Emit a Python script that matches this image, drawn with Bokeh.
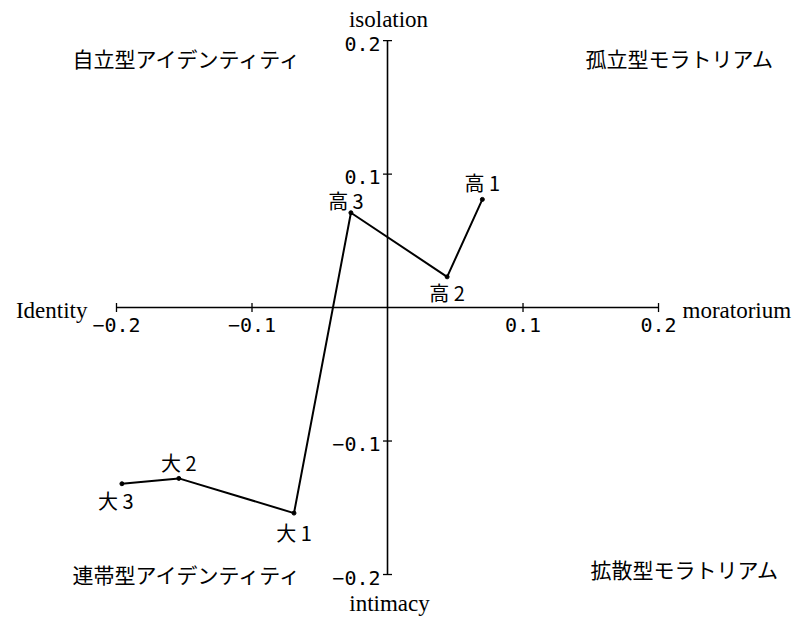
from bokeh.plotting import figure
from bokeh.models import ColumnDataSource, Range1d
from bokeh.core.properties import value
from bokeh.embed import file_html
from bokeh.resources import INLINE
import math

# ---- data ----
point_names = ["高 1", "高 2", "高 3", "大 1", "大 2", "大 3"]
point_x = [0.070, 0.044, -0.027, -0.069, -0.154, -0.196]
point_y = [0.081, 0.023, 0.071, -0.154, -0.128, -0.132]

x_ticks = [-0.2, -0.1, 0.1, 0.2]
x_tick_labels = ["\u22120.2", "\u22120.1", "0.1", "0.2"]
y_ticks = [0.2, 0.1, -0.1, -0.2]
y_tick_labels = ["0.2", "0.1", "\u22120.1", "\u22120.2"]

axis_names = ["isolation", "intimacy", "Identity", "moratorium"]
quadrant_labels = ["自立型アイデンティティ", "孤立型モラトリアム",
                   "連帯型アイデンティティ", "拡散型モラトリアム"]

# ---- layout / style ----
label_dx = [0, 0, -5, 0, 0, -6]
label_dy = [-17, 16, -12, 19, -16, 17]
quad_x = [-0.2325, 0.1461, -0.2325, 0.1498]
quad_y = [0.1873, 0.1873, -0.1993, -0.1955]

p = figure(width=798, height=617, output_backend="svg", toolbar_location=None,
           x_range=Range1d(-0.2856, 0.3033), y_range=Range1d(-0.2322, 0.2300),
           min_border=0)
p.xaxis.visible = False
p.yaxis.visible = False
p.grid.visible = False
p.outline_line_color = None
p.background_fill_color = "white"
p.border_fill_color = "white"

serif = value("Liberation Serif")
mono = value("DejaVu Sans Mono")
cjk = value("Noto Sans CJK JP")

# axis lines
p.segment(x0=[x_ticks[0], 0], y0=[0, y_ticks[-1]], x1=[x_ticks[-1], 0], y1=[0, y_ticks[0]],
          line_color="black", line_width=1.6)
# ticks
p.scatter(x=x_ticks, y=[0] * len(x_ticks), marker="dash", size=9, angle=math.pi / 2,
          line_color="black", line_width=1.3)
p.scatter(x=[0] * len(y_ticks), y=y_ticks, marker="dash", size=9,
          line_color="black", line_width=1.3)

# tick labels
p.text(x=x_ticks, y=[0] * len(x_ticks), text=x_tick_labels, text_font=mono,
       text_font_size="20px", text_align="center", text_baseline="middle",
       y_offset=17, text_color="black")
p.text(x=[0] * len(y_ticks), y=y_ticks, text=y_tick_labels, text_font=mono,
       text_font_size="20px", text_align="right", text_baseline="middle",
       x_offset=-7, y_offset=3, text_color="black")

# axis names
p.text(x=[0], y=[y_ticks[0]], text=[axis_names[0]], text_font=serif, text_font_size="23px",
       text_align="center", text_baseline="middle", y_offset=-21, x_offset=1)
p.text(x=[0], y=[y_ticks[-1]], text=[axis_names[1]], text_font=serif, text_font_size="23px",
       text_align="center", text_baseline="middle", y_offset=29, x_offset=2)
p.text(x=[x_ticks[0]], y=[0], text=[axis_names[2]], text_font=serif, text_font_size="23px",
       text_align="right", text_baseline="middle", x_offset=-29, y_offset=3)
p.text(x=[x_ticks[-1]], y=[0], text=[axis_names[3]], text_font=serif, text_font_size="23px",
       text_align="left", text_baseline="middle", x_offset=24, y_offset=3)

# quadrant labels
p.text(x=quad_x, y=quad_y, text=quadrant_labels, text_font=cjk, text_font_size="21px",
       text_align="left", text_baseline="middle", text_color="black")

# data line
src = ColumnDataSource(dict(x=point_x, y=point_y, name=point_names, dx=label_dx, dy=label_dy))
p.line("x", "y", source=src, line_color="black", line_width=2)
p.scatter("x", "y", source=src, size=4, color="black")
p.text("x", "y", text="name", source=src, x_offset="dx", y_offset="dy", text_font=cjk,
       text_font_size="20px", text_align="center", text_baseline="middle", text_color="black")

open("out.html", "w").write(file_html(p, INLINE))
